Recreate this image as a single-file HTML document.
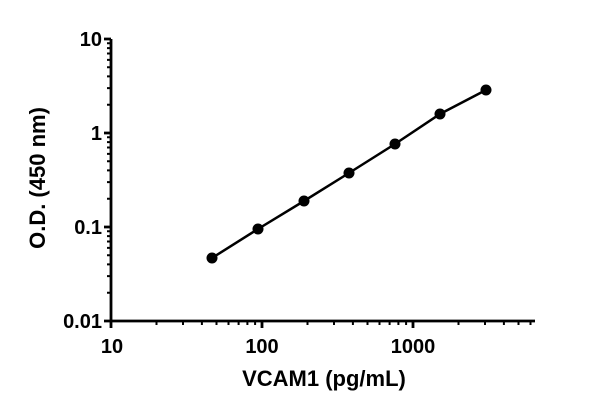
<!DOCTYPE html>
<html><head><style>html,body{margin:0;padding:0;background:#fff}</style></head><body>
<svg width="600" height="409" viewBox="0 0 600 409" xmlns="http://www.w3.org/2000/svg" font-family="Liberation Sans, Arial, sans-serif" font-weight="bold">
<g stroke="#000" fill="none">
<path d="M111,39V321H535" stroke-width="2.8"/>
<path d="M104,39H111M104,133H111M104,227H111M104,321H111M111,321V328M262,321V328M413,321V328" stroke-width="2.8"/>
<path stroke-width="2" d="M107,292.7h4M107,276.1h4M107,264.4h4M107,255.3h4M107,247.9h4M107,241.5h4M107,236.1h4M107,231.3h4M107,198.7h4M107,182.1h4M107,170.4h4M107,161.3h4M107,153.9h4M107,147.5h4M107,142.1h4M107,137.3h4M107,104.7h4M107,88.1h4M107,76.4h4M107,67.3h4M107,59.9h4M107,53.5h4M107,48.1h4M107,43.3h4
M156.5,321v4M183,321v4M201.9,321v4M216.5,321v4M228.5,321v4M238.6,321v4M247.4,321v4M255.1,321v4M307.5,321v4M334,321v4M352.9,321v4M367.5,321v4M379.5,321v4M389.6,321v4M398.4,321v4M406.1,321v4M458.5,321v4M485,321v4M503.9,321v4M518.5,321v4M530.5,321v4"/>
<polyline points="212,258 258,229 304,201 349,173 395,144 440,114 486,90" stroke-width="2.5"/>
</g>
<g fill="#000">
<circle cx="212" cy="258" r="5.5"/><circle cx="258" cy="229" r="5.5"/><circle cx="304" cy="201" r="5.5"/><circle cx="349" cy="173" r="5.5"/><circle cx="395" cy="144" r="5.5"/><circle cx="440" cy="114" r="5.5"/><circle cx="486" cy="90" r="5.5"/>
</g>
<g font-size="20" text-anchor="end">
<text x="102" y="46">10</text><text x="102" y="140">1</text><text x="102" y="234">0.1</text><text x="102" y="328">0.01</text>
</g>
<g font-size="20" text-anchor="middle">
<text x="112" y="353">10</text><text x="262" y="353">100</text><text x="413" y="353">1000</text>
</g>
<text x="324" y="386" font-size="22" text-anchor="middle">VCAM1 (pg/mL)</text>
<text transform="translate(45,178) rotate(-90)" font-size="22" text-anchor="middle">O.D. (450 nm)</text>
</svg>
</body></html>
